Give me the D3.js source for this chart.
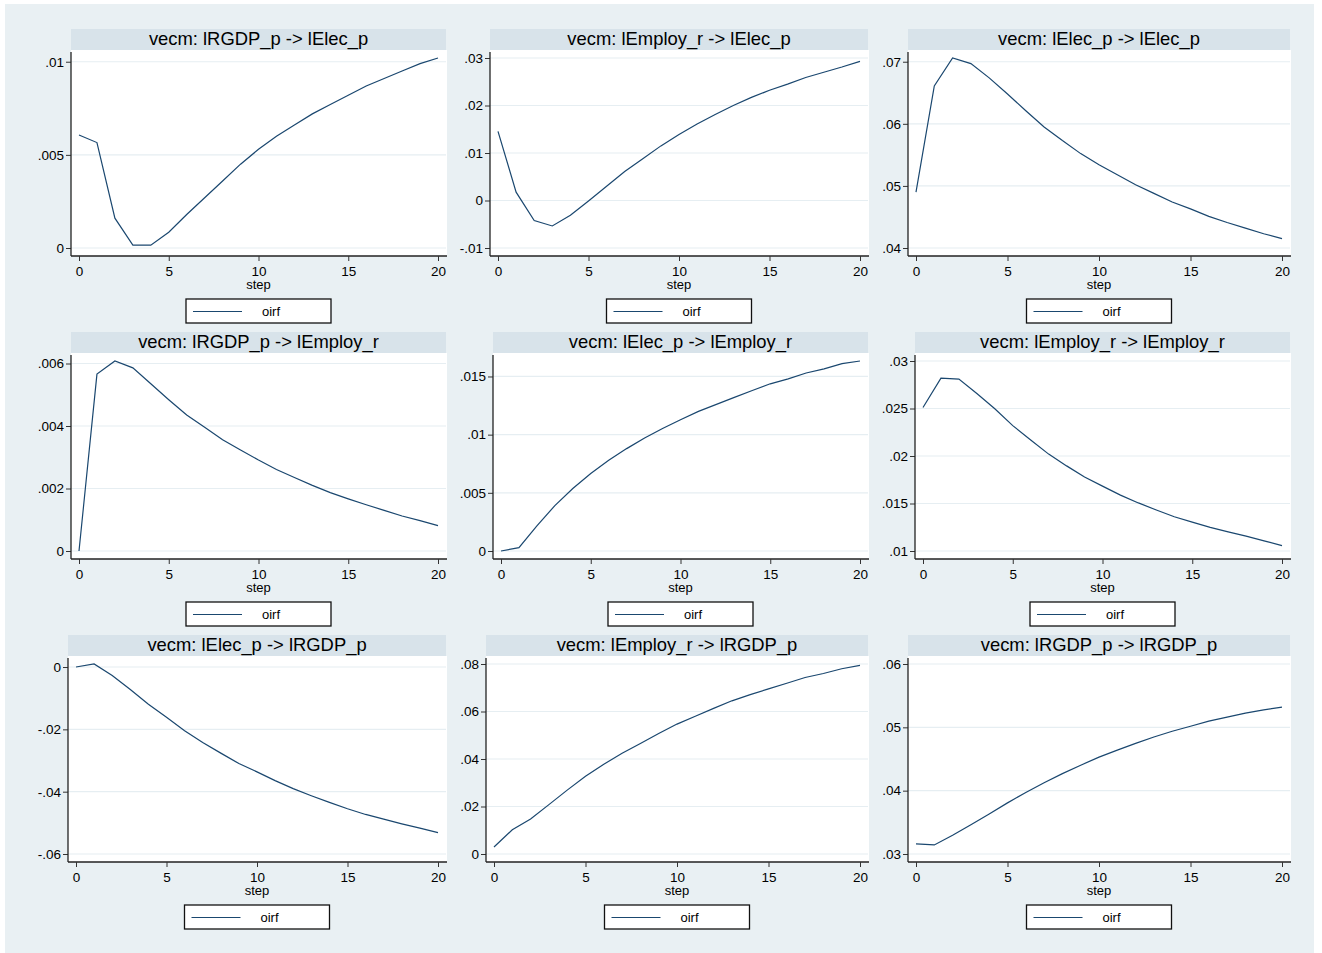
<!DOCTYPE html>
<html>
<head>
<meta charset="utf-8">
<script src="https://cdn.jsdelivr.net/npm/d3@7/dist/d3.min.js"></script>
<style>
  body { margin: 0; background: #fff; }
  svg text { font-family: "Liberation Sans", Arial, Helvetica, sans-serif; fill: #000; }
</style>
</head>
<body>
<svg id="chart"></svg>
<script>
// oirf, vecm: impulse -> response, steps 0..20

const steps = [0, 1, 2, 3, 4, 5, 6, 7, 8, 9, 10, 11, 12, 13, 14, 15, 16, 17, 18, 19, 20];
const stepTicks = [0, 5, 10, 15, 20];

const titles = [
  'vecm: lRGDP_p -> lElec_p', 'vecm: lEmploy_r -> lElec_p', 'vecm: lElec_p -> lElec_p',
  'vecm: lRGDP_p -> lEmploy_r', 'vecm: lElec_p -> lEmploy_r', 'vecm: lEmploy_r -> lEmploy_r',
  'vecm: lElec_p -> lRGDP_p', 'vecm: lEmploy_r -> lRGDP_p', 'vecm: lRGDP_p -> lRGDP_p'
];

const rgdpElec = [0.00607, 0.00566, 0.00160, 0.00015, 0.00015, 0.00085, 0.0018, 0.0027, 0.0036, 0.0045,
  0.0053, 0.0060, 0.0066, 0.0072, 0.0077, 0.0082, 0.0087, 0.0091, 0.0095, 0.0099, 0.0102];
const employElec = [0.01454, 0.00176, -0.00423, -0.00536, -0.00311, -0.0001, 0.0030, 0.0061, 0.0088, 0.0115,
  0.0139, 0.0161, 0.0181, 0.0200, 0.0217, 0.0232, 0.0245, 0.0259, 0.0270, 0.0281, 0.0293];
const elecElec = [0.0490, 0.0661, 0.0706, 0.0697, 0.0674, 0.0648, 0.0621, 0.0595, 0.0573, 0.0552,
  0.0534, 0.0518, 0.0502, 0.0488, 0.0474, 0.0463, 0.0451, 0.0441, 0.0432, 0.0423, 0.0415];
const rgdpEmploy = [0, 0.00566, 0.00608, 0.00586, 0.00535, 0.00484, 0.00435, 0.00396, 0.00356, 0.00323,
  0.00291, 0.00261, 0.00235, 0.00210, 0.00187, 0.00167, 0.00148, 0.00130, 0.00112, 0.00097, 0.00081];
const elecEmploy = [0, 0.00029, 0.00216, 0.0039, 0.00537, 0.00666, 0.00779, 0.0088, 0.00972, 0.01053,
  0.01128, 0.0120, 0.0126, 0.0132, 0.0138, 0.01437, 0.0148, 0.0153, 0.01566, 0.0161, 0.01633];
const employEmploy = [0.0251, 0.0282, 0.0281, 0.02657, 0.02497, 0.0232, 0.02168, 0.0202, 0.01896, 0.01779,
  0.01683, 0.01588, 0.01506, 0.01432, 0.01361, 0.01304, 0.01248, 0.01202, 0.01156, 0.01106, 0.01057];
const elecRgdp = [0, 0.00097, -0.00269, -0.0072, -0.01194, -0.01613, -0.02043, -0.0242, -0.02763, -0.03097,
  -0.03366, -0.03645, -0.03903, -0.04129, -0.04344, -0.04548, -0.04731, -0.04882, -0.05032, -0.05172, -0.05312];
const employRgdp = [0.00297, 0.0102, 0.0147, 0.0208, 0.0269, 0.0327, 0.0378, 0.0424, 0.0465, 0.0507,
  0.0547, 0.0580, 0.0613, 0.0645, 0.0671, 0.0695, 0.0719, 0.0743, 0.0760, 0.0780, 0.0794];
const rgdpRgdp = [0.0316, 0.03143, 0.03297, 0.03462, 0.03632, 0.03807, 0.03972, 0.04126, 0.04269, 0.04402,
  0.04529, 0.04641, 0.04747, 0.04847, 0.04938, 0.05017, 0.05097, 0.05160, 0.05224, 0.05277, 0.05320];

const series = [rgdpElec, employElec, elecElec, rgdpEmploy, elecEmploy, employEmploy, elecRgdp, employRgdp, rgdpRgdp];

const yTicks = [
  [0, 0.005, 0.01],
  [-0.01, 0, 0.01, 0.02, 0.03],
  [0.04, 0.05, 0.06, 0.07],
  [0, 0.002, 0.004, 0.006],
  [0, 0.005, 0.01, 0.015],
  [0.01, 0.015, 0.02, 0.025, 0.03],
  [-0.06, -0.04, -0.02, 0],
  [0, 0.02, 0.04, 0.06, 0.08],
  [0.03, 0.04, 0.05, 0.06]
];
const yTickLabels = [
  ['0', '.005', '.01'],
  ['-.01', '0', '.01', '.02', '.03'],
  ['.04', '.05', '.06', '.07'],
  ['0', '.002', '.004', '.006'],
  ['0', '.005', '.01', '.015'],
  ['.01', '.015', '.02', '.025', '.03'],
  ['-.06', '-.04', '-.02', '0'],
  ['0', '.02', '.04', '.06', '.08'],
  ['.03', '.04', '.05', '.06']
];

const legendLabel = 'oirf';
const xTitle = 'step';

const W = 1322, H = 953;
const bgColor = '#e9f0f3';
const bandColor = '#d8e3ea';
const gridColor = '#e6eef2';
const lineColor = '#1a476f';

const svg = d3.select('#chart').attr('width', W).attr('height', H);

svg.append('rect')
  .attr('x', 5).attr('y', 4)
  .attr('width', 1309).attr('height', 949)
  .attr('fill', bgColor);

const pad = 8;       // plot region inner margin
const bandH = 21;

series.forEach((vals, i) => {
  const col = i % 3, row = Math.floor(i / 3);
  const cellLeft = 37 + 422 * col;
  const right = 446 + 422 * col;
  const top = 50 + 303 * row;
  const bottom = top + 206;

  const g = svg.append('g');

  // y axis first, to measure label width (Stata pushes the axis right for wide labels)
  const ext = d3.extent(vals.concat(yTicks[i]));
  const y = d3.scaleLinear().domain(ext).range([bottom - pad, top + pad]);

  const yAxis = d3.axisLeft(y)
    .tickValues(yTicks[i])
    .tickFormat((d, k) => yTickLabels[i][k])
    .tickSize(5)
    .tickSizeOuter(0)
    .tickPadding(2);

  const ya = g.append('g').call(yAxis);
  ya.select('.domain').remove();
  ya.selectAll('text').style('font-size', '13.5px').attr('fill', '#000');
  ya.selectAll('line').attr('stroke', '#333');
  let maxW = 0;
  ya.selectAll('text').each(function () { maxW = Math.max(maxW, this.getComputedTextLength()); });
  const left = Math.round(cellLeft + maxW + 8);
  ya.attr('transform', `translate(${left},0)`);

  const x = d3.scaleLinear().domain([0, 20]).range([left + pad, right - pad]);

  // title band
  g.insert('rect', ':first-child')
    .attr('x', left).attr('y', top - bandH)
    .attr('width', right - left).attr('height', bandH)
    .attr('fill', bandColor);
  g.append('text')
    .attr('x', (left + right) / 2).attr('y', top - 5)
    .attr('text-anchor', 'middle')
    .style('font-size', '18.4px')
    .text(titles[i]);

  // plot region
  g.insert('rect', 'g')
    .attr('x', left).attr('y', top)
    .attr('width', right - left + 1).attr('height', bottom - top)
    .attr('fill', '#fff');

  g.insert('g', 'g').selectAll('line')
    .data(yTicks[i])
    .join('line')
    .attr('x1', left).attr('x2', right)
    .attr('y1', d => y(d)).attr('y2', d => y(d))
    .attr('stroke', gridColor)
    .attr('stroke-width', 1.2);

  // axis lines
  g.append('line')
    .attr('x1', left).attr('x2', left)
    .attr('y1', top + 2).attr('y2', bottom)
    .attr('stroke', '#222').attr('stroke-width', 1.3);
  g.append('line')
    .attr('x1', left).attr('x2', right + 1)
    .attr('y1', bottom).attr('y2', bottom)
    .attr('stroke', '#222').attr('stroke-width', 1.3);

  const xa = g.append('g')
    .attr('transform', `translate(0,${bottom})`)
    .call(d3.axisBottom(x).tickValues(stepTicks).tickSize(5).tickSizeOuter(0).tickPadding(5));
  xa.select('.domain').remove();
  xa.selectAll('text').style('font-size', '13.5px').attr('fill', '#000');
  xa.selectAll('line').attr('stroke', '#333');

  g.append('text')
    .attr('x', (left + right) / 2).attr('y', bottom + 33)
    .attr('text-anchor', 'middle')
    .style('font-size', '13px')
    .text(xTitle);

  // response line
  const line = d3.line().x((d, k) => x(steps[k])).y(d => y(d));
  g.append('path')
    .datum(vals)
    .attr('d', line)
    .attr('fill', 'none')
    .attr('stroke', lineColor)
    .attr('stroke-width', 1.2);

  // legend
  const cx = (left + right) / 2;
  const lg = g.append('g').attr('transform', `translate(${cx - 72.5},${bottom + 43})`);
  lg.append('rect')
    .attr('width', 145).attr('height', 24)
    .attr('fill', '#fff').attr('stroke', '#111').attr('stroke-width', 1.3);
  lg.append('line')
    .attr('x1', 7).attr('x2', 56).attr('y1', 12.5).attr('y2', 12.5)
    .attr('stroke', lineColor).attr('stroke-width', 1.2);
  lg.append('text')
    .attr('x', 85).attr('y', 17)
    .attr('text-anchor', 'middle')
    .style('font-size', '13px')
    .text(legendLabel);
});
</script>
</body>
</html>
